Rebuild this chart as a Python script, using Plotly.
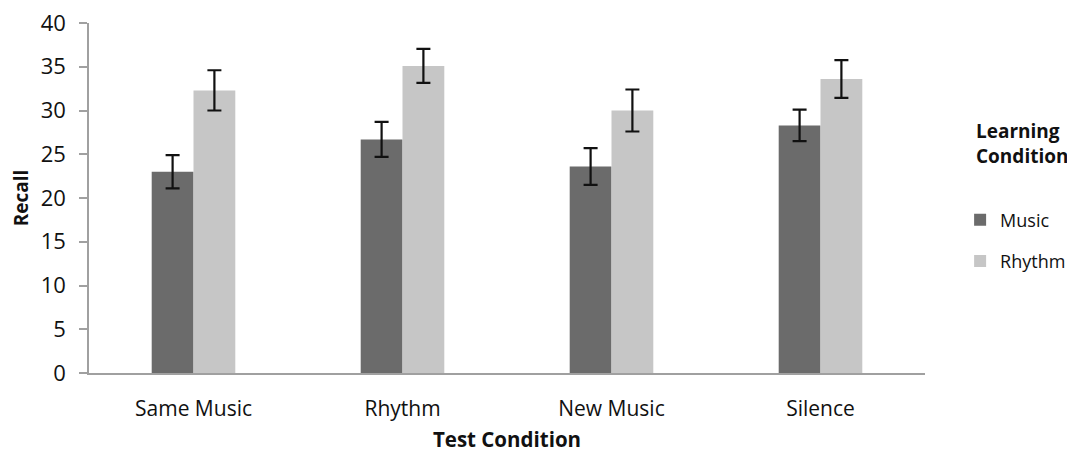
import plotly.graph_objects as go

categories = ["Same Music", "Rhythm", "New Music", "Silence"]
music_vals = [23.0, 26.7, 23.6, 28.3]
music_err = [1.9, 2.0, 2.1, 1.8]
rhythm_vals = [32.3, 35.1, 30.0, 33.6]
rhythm_err = [2.3, 1.95, 2.4, 2.15]
y_ticks = [0, 5, 10, 15, 20, 25, 30, 35, 40]

FONT = "Open Sans"

fig = go.Figure()
fig.add_trace(go.Bar(
    name="Music", x=categories, y=music_vals, legendgroup="m",
    marker=dict(color="#6b6b6b", line=dict(width=0)),
    error_y=dict(type="data", array=music_err, color="#111111", thickness=2.2, width=7),
))
fig.add_trace(go.Bar(
    name="Rhythm", x=categories, y=rhythm_vals, legendgroup="r",
    marker=dict(color="#c6c6c6", line=dict(width=0)),
    error_y=dict(type="data", array=rhythm_err, color="#111111", thickness=2.2, width=7),
))

fig.add_annotation(
    text="<b>Learning<br>Condition</b>", xref="paper", yref="paper",
    x=1.0585, y=0.735, xanchor="left", yanchor="top", align="left",
    showarrow=False, font=dict(size=19, family=FONT, color="#111111"),
)

# page body has an 8px margin, so the figure is offset by 8px in the window
fig.update_layout(
    width=1067, height=445,
    margin=dict(l=81, r=150, t=15, b=80, autoexpand=False),
    paper_bgcolor="white", plot_bgcolor="white",
    barmode="group", bargap=0.6, bargroupgap=0,
    font=dict(family=FONT, color="#111111", size=18),
    legend=dict(
        x=1.042, y=0.49, xanchor="left", yanchor="top",
        font=dict(size=18, family=FONT),
        tracegroupgap=15,
        itemwidth=30,
    ),
    xaxis=dict(
        showline=True, linecolor="#a0a0a0", linewidth=1.5,
        ticks="", tickfont=dict(size=21, family=FONT),
        ticklabelstandoff=16, automargin=False,
        title=dict(text="<b>Test Condition</b>", font=dict(size=20.5, family=FONT), standoff=16),
        showgrid=False,
    ),
    yaxis=dict(
        range=[0, 40], tickvals=y_ticks,
        showline=True, linecolor="#a0a0a0", linewidth=1.5,
        ticks="outside", ticklen=8, tickcolor="#a0a0a0", tickwidth=1.5,
        tickfont=dict(size=22, family=FONT), ticklabelstandoff=9,
        ticklabeloverflow="allow",
        automargin=False,
        title=dict(text="<b>Recall</b>", font=dict(size=19, family=FONT), standoff=8),
        showgrid=False, zeroline=False,
    ),
)

fig.write_html("out.html")
